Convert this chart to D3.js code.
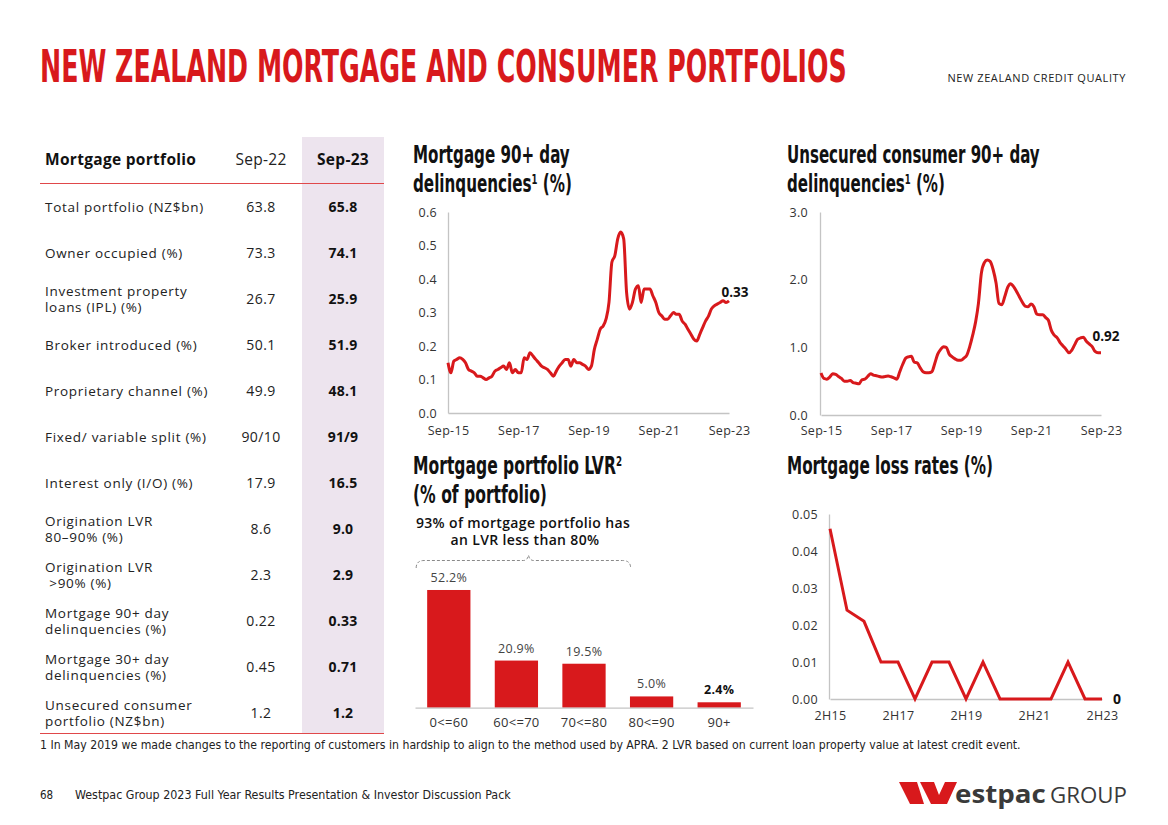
<!DOCTYPE html>
<html><head><meta charset="utf-8">
<script src="https://cdn.jsdelivr.net/npm/d3@7"></script>
<style>
body{margin:0;background:#fff;}
svg{display:block;font-family:"Open Sans",sans-serif;}
</style></head><body>
<svg id="c" width="1168" height="825"></svg>
<script>
// ---------- DATA ----------
const tableLabels = [
  ["Total portfolio (NZ$bn)"],
  ["Owner occupied (%)"],
  ["Investment property", "loans (IPL) (%)"],
  ["Broker introduced (%)"],
  ["Proprietary channel (%)"],
  ["Fixed/ variable split (%)"],
  ["Interest only (I/O) (%)"],
  ["Origination LVR", "80–90% (%)"],
  ["Origination LVR", " >90% (%)"],
  ["Mortgage 90+ day", "delinquencies (%)"],
  ["Mortgage 30+ day", "delinquencies (%)"],
  ["Unsecured consumer", "portfolio (NZ$bn)"]
];
const sep22 = ["63.8","73.3","26.7","50.1","49.9","90/10","17.9","8.6","2.3","0.22","0.45","1.2"];
const sep23 = ["65.8","74.1","25.9","51.9","48.1","91/9","16.5","9.0","2.9","0.33","0.71","1.2"];

const monthTickLabels = ["Sep-15","Sep-17","Sep-19","Sep-21","Sep-23"];
const mortgage90 = [
  0.15,0.12,0.155,0.16,0.165,0.16,0.15,0.13,0.125,0.12,
  0.11,0.11,0.105,0.10,0.105,0.11,0.125,0.13,0.135,0.14,
  0.13,0.15,0.12,0.13,0.12,0.12,0.165,0.16,0.18,0.17,
  0.16,0.15,0.14,0.135,0.13,0.12,0.11,0.125,0.14,0.15,
  0.16,0.16,0.14,0.16,0.15,0.15,0.145,0.14,0.13,0.14,
  0.19,0.22,0.25,0.26,0.28,0.33,0.45,0.47,0.52,0.54,
  0.52,0.36,0.31,0.33,0.37,0.38,0.33,0.37,0.37,0.37,
  0.35,0.33,0.30,0.29,0.28,0.28,0.29,0.30,0.295,0.295,
  0.275,0.265,0.25,0.235,0.22,0.215,0.235,0.255,0.275,0.29,
  0.31,0.32,0.325,0.33,0.335,0.33,0.335
];
const unsecured90 = [
  0.62,0.54,0.53,0.56,0.61,0.60,0.57,0.54,0.50,0.50,
  0.51,0.48,0.47,0.46,0.52,0.53,0.57,0.61,0.59,0.58,
  0.57,0.56,0.57,0.575,0.565,0.55,0.53,0.64,0.75,0.84,
  0.86,0.87,0.78,0.77,0.70,0.64,0.625,0.625,0.64,0.76,
  0.90,0.97,1.01,1.00,0.90,0.86,0.83,0.81,0.81,0.84,
  0.885,1.01,1.18,1.38,1.65,2.10,2.25,2.29,2.27,2.15,
  1.95,1.65,1.63,1.75,1.89,1.94,1.90,1.83,1.75,1.67,
  1.61,1.60,1.64,1.60,1.49,1.48,1.48,1.44,1.40,1.25,
  1.18,1.14,1.07,1.02,0.97,0.92,0.96,1.04,1.12,1.14,
  1.15,1.09,1.05,1.01,0.94,0.92,0.92
];
const lossHalves = ["2H15","1H16","2H16","1H17","2H17","1H18","2H18","1H19","2H19","1H20","2H20","1H21","2H21","1H22","2H22","1H23","2H23"];
const lossTicks = ["2H15","2H17","2H19","2H21","2H23"];
const lossRates = [0.046,0.024,0.021,0.01,0.01,0,0.01,0.01,0,0.01,0,0,0,0,0.01,0,0];
const lvrBands = ["0<=60","60<=70","70<=80","80<=90","90+"];
const lvrShares = [52.2,20.9,19.5,5.0,2.4];

// ---------- STYLE ----------
const RED = "#d8191c";
const TXT = "#222";
const AXIS = "#c4c4c4";
const COND = "'Liberation Sans Narrow','DejaVu Sans Condensed','Roboto',sans-serif";

const svg = d3.select("#c");

// fit a text (drawn at origin) to a given width by horizontal scaling
function fitText(sel, x, y, width){
  const w = sel.node().getBBox().width;
  sel.attr("transform",`translate(${x},${y}) scale(${width/w},1)`);
  return sel;
}

// ---------- HEADER ----------
fitText(svg.append("text").attr("x",0).attr("y",0)
  .attr("font-family",COND).attr("font-weight",700).attr("font-size",44)
  .attr("fill",RED).text("NEW ZEALAND MORTGAGE AND CONSUMER PORTFOLIOS"), 40, 82, 807);
svg.append("text").attr("x",1126).attr("y",82).attr("text-anchor","end")
  .attr("font-size",11).attr("fill",TXT).attr("letter-spacing",0.6)
  .text("NEW ZEALAND CREDIT QUALITY");

// ---------- TABLE ----------
svg.append("rect").attr("x",302).attr("y",137).attr("width",82).attr("height",596).attr("fill","#ede4ee");
svg.append("text").attr("x",45).attr("y",165).attr("font-size",15.5).attr("letter-spacing",0.3).attr("font-weight",700).attr("fill","#111").text("Mortgage portfolio");
svg.append("text").attr("x",261).attr("y",165).attr("text-anchor","middle").attr("font-size",15.5).attr("letter-spacing",0.3).attr("fill",TXT).text("Sep-22");
svg.append("text").attr("x",343).attr("y",165).attr("text-anchor","middle").attr("font-size",15.5).attr("letter-spacing",0.3).attr("font-weight",700).attr("fill","#111").text("Sep-23");
svg.append("line").attr("x1",40).attr("x2",384).attr("y1",183.5).attr("y2",183.5).attr("stroke","#e0484a").attr("stroke-width",1.2);
svg.append("line").attr("x1",40).attr("x2",384).attr("y1",733.5).attr("y2",733.5).attr("stroke","#e0484a").attr("stroke-width",1.2);

const rowY = d3.scaleLinear().domain([0, tableLabels.length-1]).range([207, 713]);
const rows = svg.append("g").selectAll("g").data(tableLabels).join("g");
rows.each(function(lines,i){
  const g = d3.select(this), cy = rowY(i);
  if(lines.length===1){
    g.append("text").attr("x",45).attr("y",cy+5).attr("font-size",13.5).attr("letter-spacing",0.7).attr("fill",TXT).text(lines[0]);
  } else {
    const t = g.append("text").attr("x",45).attr("y",cy-3).attr("font-size",13.5).attr("letter-spacing",0.7).attr("fill",TXT)
      .attr("xml:space","preserve").style("white-space","pre");
    t.append("tspan").attr("x",45).text(lines[0]);
    t.append("tspan").attr("x",45).attr("dy",16).text(lines[1]);
  }
  g.append("text").attr("x",261).attr("y",cy+5).attr("text-anchor","middle").attr("font-size",14).attr("letter-spacing",0.4).attr("fill",TXT).text(sep22[i]);
  g.append("text").attr("x",343).attr("y",cy+5).attr("text-anchor","middle").attr("font-size",14).attr("letter-spacing",0.2).attr("font-weight",700).attr("fill","#111").text(sep23[i]);
});

// ---------- helpers ----------
function chartTitle(x, y, parts, widths){
  parts.forEach((p,k)=>{
    const t = svg.append("text").attr("x",0).attr("y",0)
      .attr("font-family",COND).attr("font-weight",700).attr("font-size",25).attr("fill","#111");
    p.forEach(seg=>{
      const ts = t.append("tspan").text(seg.t);
      if(seg.sup){ ts.attr("font-size",14).attr("dy",-8); }
      else if(seg.after){ ts.attr("dy",8); }
    });
    fitText(t, x, y+k*29, widths[k]);
  });
}
function styleAxis(g){
  g.select(".domain").attr("stroke",AXIS).attr("stroke-width",1.3);
  g.selectAll("text").attr("fill","#333").attr("font-size",12.5).attr("letter-spacing",0.3).attr("font-family","'Open Sans',sans-serif");
}

const startDate = new Date(2015,8,1);
const dates = mortgage90.map((_,i)=>d3.timeMonth.offset(startDate,i));
const tickDates = monthTickLabels.map((_,k)=>d3.timeMonth.offset(startDate,k*24));

// ---------- CHART 1: Mortgage 90+ ----------
chartTitle(413,163,[[{t:"Mortgage 90+ day"}],[{t:"delinquencies"},{t:"1",sup:true},{t:" (%)",after:true}]],[157,159]);
{
  const x = d3.scaleTime().domain([dates[0],dates[dates.length-1]]).range([448,729]);
  const y = d3.scaleLinear().domain([0,0.6]).range([413,212]);
  svg.append("g").attr("transform","translate(448,0)")
    .call(d3.axisLeft(y).tickValues([0,0.1,0.2,0.3,0.4,0.5,0.6]).tickFormat(d3.format(".1f")).tickSize(0).tickPadding(11))
    .call(styleAxis);
  svg.append("g").attr("transform","translate(0,413)")
    .call(d3.axisBottom(x).tickValues(tickDates).tickFormat((d,k)=>monthTickLabels[k]).tickSize(0).tickPadding(13))
    .call(styleAxis);
  svg.append("path").datum(mortgage90)
    .attr("fill","none").attr("stroke",RED).attr("stroke-width",3).attr("stroke-linejoin","round")
    .attr("d",d3.line().x((d,i)=>x(dates[i])).y(d=>y(d)).curve(d3.curveMonotoneX));
  const last = mortgage90.length-1;
  svg.append("text").attr("x",x(dates[last])+6).attr("y",y(mortgage90[last])-4)
    .attr("text-anchor","middle").attr("font-size",13.5).attr("font-weight",700).attr("fill","#111").text("0.33");
}

// ---------- CHART 2: Unsecured 90+ ----------
chartTitle(787,163,[[{t:"Unsecured consumer 90+ day"}],[{t:"delinquencies"},{t:"1",sup:true},{t:" (%)",after:true}]],[253,158]);
{
  const x = d3.scaleTime().domain([dates[0],dates[dates.length-1]]).range([821,1101]);
  const y = d3.scaleLinear().domain([0,3]).range([415,212]);
  svg.append("g").attr("transform","translate(820,0)")
    .call(d3.axisLeft(y).tickValues([0,1,2,3]).tickFormat(d3.format(".1f")).tickSize(0).tickPadding(12))
    .call(styleAxis);
  svg.append("g").attr("transform","translate(0,415)")
    .call(d3.axisBottom(x).tickValues(tickDates).tickFormat((d,k)=>monthTickLabels[k]).tickSize(0).tickPadding(11))
    .call(styleAxis);
  svg.append("path").datum(unsecured90)
    .attr("fill","none").attr("stroke",RED).attr("stroke-width",3).attr("stroke-linejoin","round")
    .attr("d",d3.line().x((d,i)=>x(dates[i])).y(d=>y(d)).curve(d3.curveMonotoneX));
  const last = unsecured90.length-1;
  svg.append("text").attr("x",x(dates[last])+5).attr("y",y(unsecured90[last])-12)
    .attr("text-anchor","middle").attr("font-size",13.5).attr("font-weight",700).attr("fill","#111").text("0.92");
}

// ---------- CHART 3: Loss rates ----------
chartTitle(787,474,[[{t:"Mortgage loss rates (%)"}]],[206]);
{
  const x = d3.scalePoint().domain(lossHalves).range([830,1102]);
  const y = d3.scaleLinear().domain([0,0.05]).range([699,514]);
  svg.append("g").attr("transform","translate(829,0)")
    .call(d3.axisLeft(y).tickValues([0,0.01,0.02,0.03,0.04,0.05]).tickFormat(d3.format(".2f")).tickSize(0).tickPadding(11))
    .call(styleAxis);
  svg.append("g").attr("transform","translate(0,699)")
    .call(d3.axisBottom(x).tickValues(lossTicks).tickSize(0).tickPadding(12))
    .call(styleAxis);
  svg.append("path").datum(lossRates)
    .attr("fill","none").attr("stroke",RED).attr("stroke-width",3).attr("stroke-linejoin","miter")
    .attr("d",d3.line().x((d,i)=>x(lossHalves[i])).y(d=>y(d)));
  const last = lossRates.length-1;
  svg.append("text").attr("x",x(lossHalves[last])+15).attr("y",y(lossRates[last])+5)
    .attr("text-anchor","middle").attr("font-size",14).attr("font-weight",700).attr("fill","#111").text("0");
}

// ---------- CHART 4: LVR bars ----------
chartTitle(413,474,[[{t:"Mortgage portfolio LVR"},{t:"2",sup:true}],[{t:"(% of portfolio)"}]],[209,134]);
{
  const x = d3.scaleBand().domain(lvrBands).range([415,753]).paddingInner(0.36).paddingOuter(0.18);
  const y = d3.scaleLinear().domain([0,60]).range([707.7,572.4]);
  svg.append("g").selectAll("rect").data(lvrShares).join("rect")
    .attr("x",(d,i)=>x(lvrBands[i])).attr("width",x.bandwidth())
    .attr("y",d=>y(d)).attr("height",d=>y(0)-y(d)).attr("fill",RED);
  svg.append("g").attr("transform","translate(0,707.7)")
    .call(d3.axisBottom(x).tickSize(0).tickPadding(10).tickSizeOuter(0))
    .call(styleAxis).call(g=>g.selectAll("text").attr("font-size",13));
  svg.append("g").selectAll("text").data(lvrShares).join("text")
    .attr("x",(d,i)=>x(lvrBands[i])+x.bandwidth()/2).attr("y",d=>y(d)-8)
    .attr("text-anchor","middle").attr("font-size",12.5).attr("letter-spacing",0.3)
    .attr("font-weight",(d,i)=>i===lvrShares.length-1?700:400)
    .attr("fill",(d,i)=>i===lvrShares.length-1?"#111":"#444")
    .text(d=>d.toFixed(1)+"%");
  svg.append("text").attr("x",523).attr("y",528).attr("text-anchor","middle")
    .attr("font-size",14).attr("letter-spacing",0.35).attr("font-weight",600).attr("fill","#111").text("93% of mortgage portfolio has");
  svg.append("text").attr("x",525).attr("y",545).attr("text-anchor","middle")
    .attr("font-size",14).attr("letter-spacing",0.35).attr("font-weight",600).attr("fill","#111").text("an LVR less than 80%");
  const bx0 = x(lvrBands[0]) - 11, bx1 = x(lvrBands[2]) + x.bandwidth() + 25, bm = 528.5;
  svg.append("path")
    .attr("d",`M${bx0},568 Q${bx0},560.5 ${bx0+8},560.5 L${bm-5},560.5 Q${bm-1},560.5 ${bm},555 Q${bm+1},560.5 ${bm+5},560.5 L${bx1-8},560.5 Q${bx1},560.5 ${bx1},568`)
    .attr("fill","none").attr("stroke","#8a8a8a").attr("stroke-width",1).attr("stroke-dasharray","3,2");
}

// ---------- FOOTNOTE / FOOTER ----------
fitText(svg.append("text").attr("x",0).attr("y",0).attr("font-family",COND).attr("font-size",11.5).attr("fill","#222")
  .text("1 In May 2019 we made changes to the reporting of customers in hardship to align to the method used by APRA. 2 LVR based on current loan property value at latest credit event."), 40, 749, 982);
svg.append("text").attr("x",40).attr("y",799).attr("font-family",COND).attr("font-size",11.5).attr("fill","#222").text("68");
fitText(svg.append("text").attr("x",0).attr("y",0).attr("font-family",COND).attr("font-size",11.5).attr("fill","#222")
  .text("Westpac Group 2023 Full Year Results Presentation & Investor Discussion Pack"), 75, 799, 436);

// logo
const logo = svg.append("g");
logo.append("path").attr("d","M899,782 L917,782 L924,804 L910,804 Z").attr("fill",RED);
logo.append("path").attr("d","M920,782 L934,782 L939,795 L945,782 L957,782 L947,804 L931,804 Z").attr("fill",RED);
fitText(logo.append("text").attr("x",0).attr("y",0).attr("font-family","'Open Sans',sans-serif").attr("font-weight",700)
  .attr("font-size",25).attr("fill","#3a3a3a").text("estpac"), 955, 803, 91);
fitText(logo.append("text").attr("x",0).attr("y",0).attr("font-family","'Open Sans',sans-serif").attr("font-weight",400)
  .attr("font-size",21).attr("fill","#3a3a3a").text("GROUP"), 1050, 803, 77);
</script>
</body></html>
